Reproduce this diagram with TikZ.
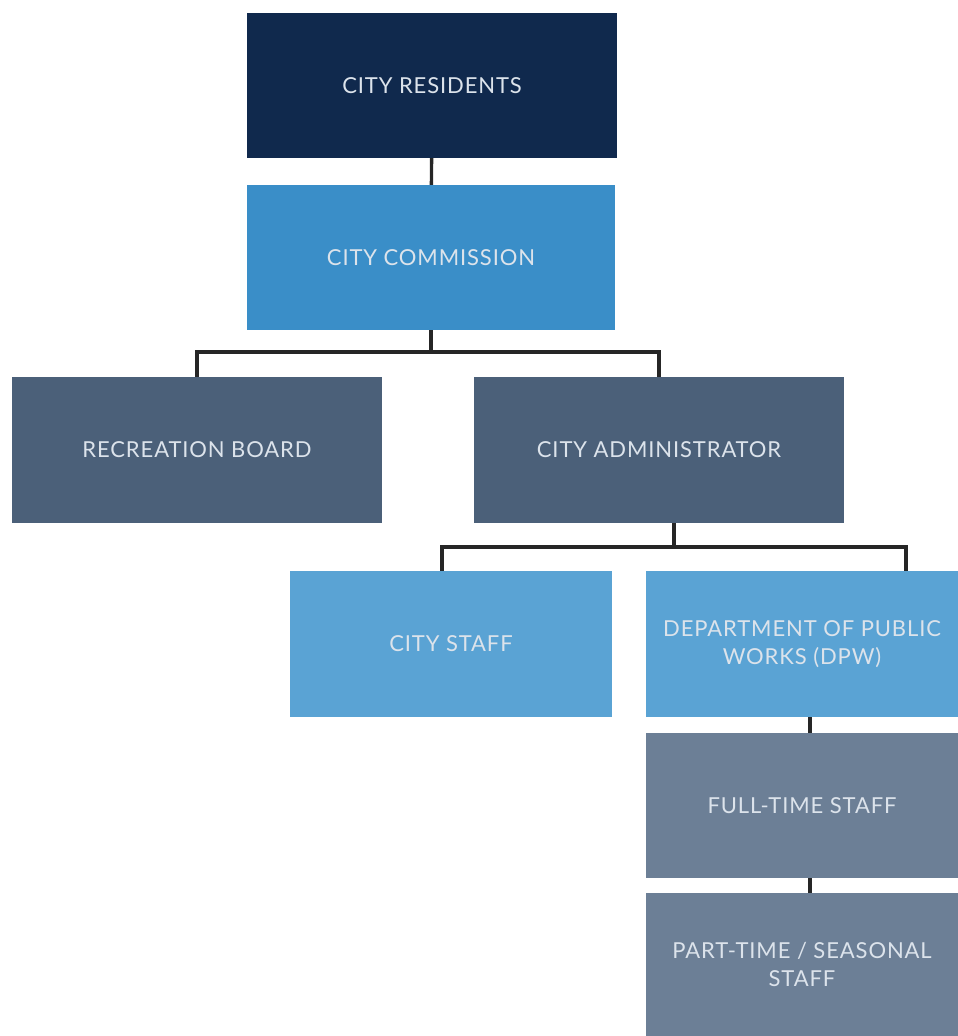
\documentclass[tikz,border=0pt]{standalone}
\usepackage{fontspec}
\setmainfont{Lato}[LetterSpace=4]
\usetikzlibrary{positioning}
\definecolor{navy}{HTML}{10294D}
\definecolor{commblue}{HTML}{3A8EC8}
\definecolor{slate}{HTML}{4B6079}
\definecolor{lightblue}{HTML}{5AA3D4}
\definecolor{staffgray}{HTML}{6C7F96}
\definecolor{labelgray}{HTML}{DCE3EB}
\tikzset{
  unit/.style={rectangle, inner sep=0, text=labelgray, align=center,
               font=\fontsize{22}{28}\selectfont},
  link/.style={draw=black!85, line width=3.4pt}
}

\begin{document}
\begin{tikzpicture}[x=1pt, y=-1pt]
				\useasboundingbox (0, 0) rectangle (958, 1036);

				\node (Residents) [unit, fill=navy, minimum width=370, minimum height=145] at (432, 85.5) {CITY RESIDENTS};
				\node (Commission) [unit, fill=commblue, minimum width=368, minimum height=145] at (431, 257.5) {CITY COMMISSION};
				\draw [link] (Residents) -- (Commission);

				\node (Recreation) [unit, fill=slate, minimum width=370, minimum height=146] at (197, 450) {RECREATION BOARD};
				\node (Admin) [unit, fill=slate, minimum width=370, minimum height=146] at (659, 450) {CITY ADMINISTRATOR};
				\coordinate (CommBar) at (431, 352);
				\draw [link] (Commission) -- (CommBar);
				\draw [link] (Recreation.north) |- (CommBar) -| (Admin.north);

				\node (Staff) [unit, fill=lightblue, minimum width=322, minimum height=146] at (451, 644) {CITY STAFF};
				\node (DPW) [unit, fill=lightblue, minimum width=312, minimum height=146] at (802, 644) {DEPARTMENT OF PUBLIC\\WORKS (DPW)};
				\coordinate (AdminOut) at (674, 523);
				\coordinate (AdminBar) at (674, 547);
				\coordinate (StaffIn) at (442, 571);
				\coordinate (DPWIn) at (906, 571);
				\draw [link] (AdminOut) -- (AdminBar);
				\draw [link] (StaffIn) |- (AdminBar) -| (DPWIn);

				\node (FullTime) [unit, fill=staffgray, minimum width=312, minimum height=145] at (802, 805.5) {FULL-TIME STAFF};
				\coordinate (DPWOut) at (810, 717);
				\coordinate (FullIn) at (810, 733);
				\draw [link] (DPWOut) -- (FullIn);

				\node (PartTime) [unit, fill=staffgray, minimum width=312, minimum height=143] at (802, 964.5) {PART-TIME / SEASONAL\\STAFF};
				\coordinate (FullOut) at (810, 878);
				\coordinate (PartIn) at (810, 893);
				\draw [link] (FullOut) -- (PartIn);
			\end{tikzpicture}
\end{document}
